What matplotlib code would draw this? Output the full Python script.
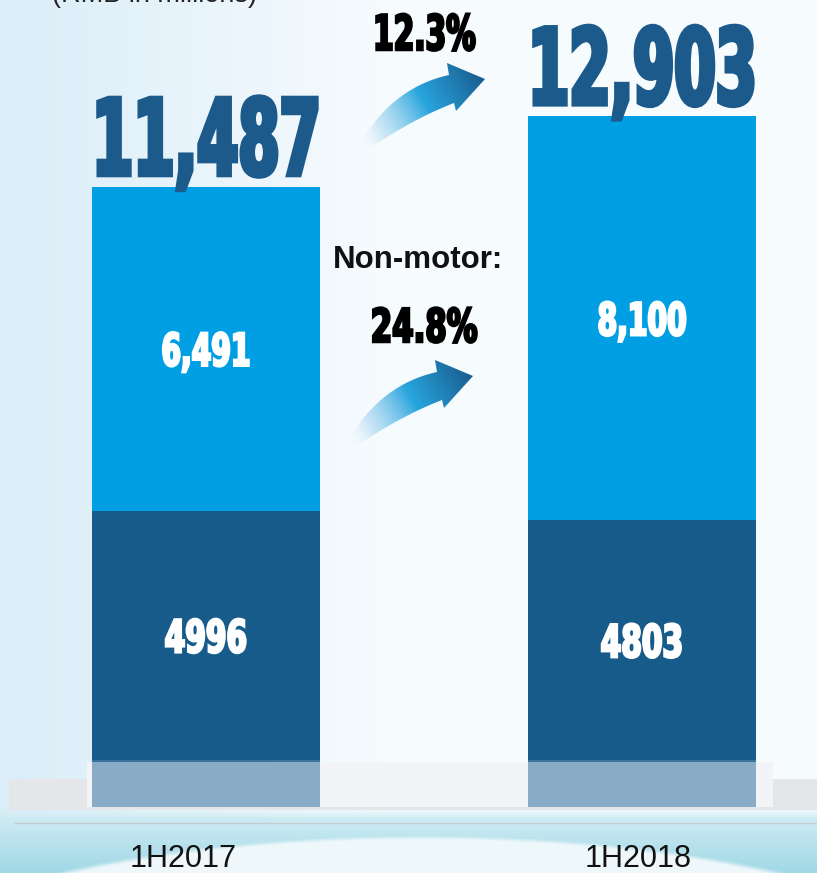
import matplotlib
matplotlib.use("Agg")
import matplotlib.pyplot as plt
import numpy as np
from matplotlib.patches import Polygon, Rectangle
from matplotlib.patheffects import AbstractPathEffect
from matplotlib.transforms import Affine2D

# data
periods = ["1H2017", "1H2018"]
motor = [4996, 4803]
non_motor = [6491, 8100]
totals = [11487, 12903]
motor_labels = ["4996", "4803"]
non_motor_labels = ["6,491", "8,100"]
total_labels = ["11,487", "12,903"]
total_growth = "12.3%"
non_motor_growth = "24.8%"

W, H = 817, 873
DARK = "#175b8b"
LIGHT = "#009fe3"
BASE = "#8aabc5"
NAVY = "#1b5a8a"


class Squeeze(AbstractPathEffect):
    """Scale glyphs around their centre/baseline to fake a condensed heavy face."""

    def __init__(self, sx=1.0, sy=1.0, stroke=0.0):
        super().__init__()
        self.sx, self.sy, self.stroke = sx, sy, stroke

    def draw_path(self, renderer, gc, tpath, affine, rgbFace=None):
        ext = tpath.get_extents(affine)
        cx = (ext.x0 + ext.x1) / 2
        by = affine.get_matrix()[1, 2]
        aff = affine + Affine2D().translate(-cx, -by).scale(self.sx, self.sy).translate(cx, by)
        gc0 = renderer.new_gc()
        gc0.copy_properties(gc)
        if self.stroke and rgbFace is not None:
            gc0.set_linewidth(self.stroke)
            gc0.set_foreground(rgbFace)
            gc0.set_joinstyle("miter")
        renderer.draw_path(gc0, tpath, aff, rgbFace)
        gc0.restore()


fig = plt.figure(figsize=(W / 100, H / 100), dpi=100)

# ---- background ----
bg = fig.add_axes([0, 0, 1, 1], zorder=0)
bg.set_xlim(0, W)
bg.set_ylim(H, 0)
bg.axis("off")
yy, xx = np.mgrid[0:H, 0:W].astype(float)
t = np.clip(xx / 380, 0, 1)[..., None]
left = np.array([218, 237, 248]) / 255
right = np.array([246, 251, 254]) / 255
img = left * (1 - t) + right * t
# bottom cyan band with white arc
band = np.clip((yy - 808) / 10, 0, 1)[..., None]
v = np.clip((yy - 812) / 61, 0, 1)[..., None]
cyan = np.array([210, 237, 244]) / 255 * (1 - v) + np.array([160, 216, 230]) / 255 * v
r = ((xx - 420) / 580) ** 2 + ((yy - 1000) / 165) ** 2
inside = np.clip((1.0 - r) / 0.05, 0, 1)[..., None]
arc = np.array([238, 248, 251]) / 255
cyan = cyan * (1 - inside) + arc * inside
img = img * (1 - band) + cyan * band
bg.imshow(img, extent=(0, W, H, 0), aspect="auto", interpolation="bilinear")
bg.add_patch(Rectangle((9, 779), W - 9, 31, color="#e4e6ea", lw=0))
bg.add_patch(Rectangle((87, 762), 686, 45, color="#f2f4f7", lw=0))
bg.plot([15, W], [823, 823], color="#c6cbd0", lw=1)

# ---- bars ----
ax = fig.add_axes([0, 0, 1, 1], zorder=1)
ax.patch.set_visible(False)
ax.axis("off")
scale = 0.0499  # px per unit
ax.set_xlim(-206 / 436, (W - 206) / 436)
ax.set_ylim(-(H - 760) / scale, 760 / scale)
x = np.arange(len(periods))
bw = 228 / 436
ax.bar(x, motor, width=bw, color=DARK, lw=0)
ax.bar(x, non_motor, bottom=motor, width=bw, color=LIGHT, lw=0)
ax.bar(x, -900, bottom=-40, width=bw, color=BASE, lw=0)
ax.hlines(np.full(len(x), -30), x - bw / 2, x + bw / 2, color=DARK, lw=1.2)


def heavy(axis, s, xy, size, sx, sy, color, stroke=1.0, dy=0.0, **kw):
    return axis.annotate(s, xy=xy, xytext=(0, dy), textcoords="offset points",
                         ha="center", va="baseline", fontsize=size, fontweight="bold",
                         family="DejaVu Sans", color=color,
                         path_effects=[Squeeze(sx, sy, stroke)], **kw)


for i in range(len(periods)):
    heavy(ax, motor_labels[i], (x[i], motor[i] / 2), 26, 0.82, 1.25, "white", 1.8, dy=-17 * 0.72)
    heavy(ax, non_motor_labels[i], (x[i], motor[i] + non_motor[i] / 2), 26, 0.78, 1.25, "white", 1.8,
          dy=-17 * 0.72)
    heavy(ax, total_labels[i], (x[i], totals[i]), 61, 0.70, 1.24, NAVY, 3.6, dy=12 * 0.72)

label_dx = [-23, -4]
for i, p in enumerate(periods):
    ax.annotate(p, xy=(x[i], 0), xytext=(label_dx[i] * 0.72, -(867 - 760) * 0.72),
                textcoords="offset points", ha="center", va="baseline", fontsize=22,
                family="Liberation Sans", color="#111111")

fig.text(155 / W, 1 - 2 / H, "(RMB in millions)", ha="center", va="baseline",
         fontsize=19.5, family="Liberation Sans", color="#222222")

# ---- arrows and growth text ----
deco = fig.add_axes([0, 0, 1, 1], zorder=2)
deco.patch.set_visible(False)
deco.set_xlim(0, W)
deco.set_ylim(H, 0)
deco.axis("off")


def draw_arrow(tx, ty):
    s = np.linspace(0, 1, 40)[:, None]

    def quad(p0, p1, p2):
        p0, p1, p2 = (np.array(p, float) for p in (p0, p1, p2))
        return (1 - s) ** 2 * p0 + 2 * s * (1 - s) * p1 + s ** 2 * p2

    upper = quad((-3, -1), (30, -62), (89, -75))
    lower = quad((3, 3), (50, -30), (94, -47))[::-1]
    head = np.array([(87, -87), (125, -71), (96, -39)], float)
    pts = np.vstack([upper, head, lower]) + (tx, ty)
    poly = Polygon(pts, closed=True, facecolor="none", edgecolor="none")
    deco.add_patch(poly)
    x0, x1, y0, y1 = tx - 8, tx + 130, ty - 92, ty + 8
    gy, gx = np.mgrid[y0:y1, x0:x1].astype(float)
    u = np.clip(((gx - tx) * 125 + (gy - ty) * -71) / (125 ** 2 + 71 ** 2), 0, 1)
    stops = [0, 0.2, 0.55, 1]
    rgba = np.dstack([
        np.interp(u, stops, [255, 175, 40, 25]) / 255,
        np.interp(u, stops, [255, 218, 165, 92]) / 255,
        np.interp(u, stops, [255, 242, 222, 142]) / 255,
        np.interp(u, stops, [0, 0.6, 1, 1]),
    ])
    im = deco.imshow(rgba, extent=(x0, x1, y1, y0), aspect="auto", interpolation="bilinear")
    im.set_clip_path(poly)


draw_arrow(360, 150)
draw_arrow(348, 447)
deco.set_xlim(0, W)
deco.set_ylim(H, 0)

heavy(deco, total_growth, (424, 50), 28.8, 0.74, 1.22, "black", 1.8)
heavy(deco, non_motor_growth, (424, 342), 28.8, 0.77, 1.16, "black", 1.8)
deco.text(418, 268, "Non-motor:", ha="center", va="baseline", fontsize=22.5,
          fontweight="bold", family="Liberation Sans", color="#111111")

fig.savefig("out.png", dpi=100)
